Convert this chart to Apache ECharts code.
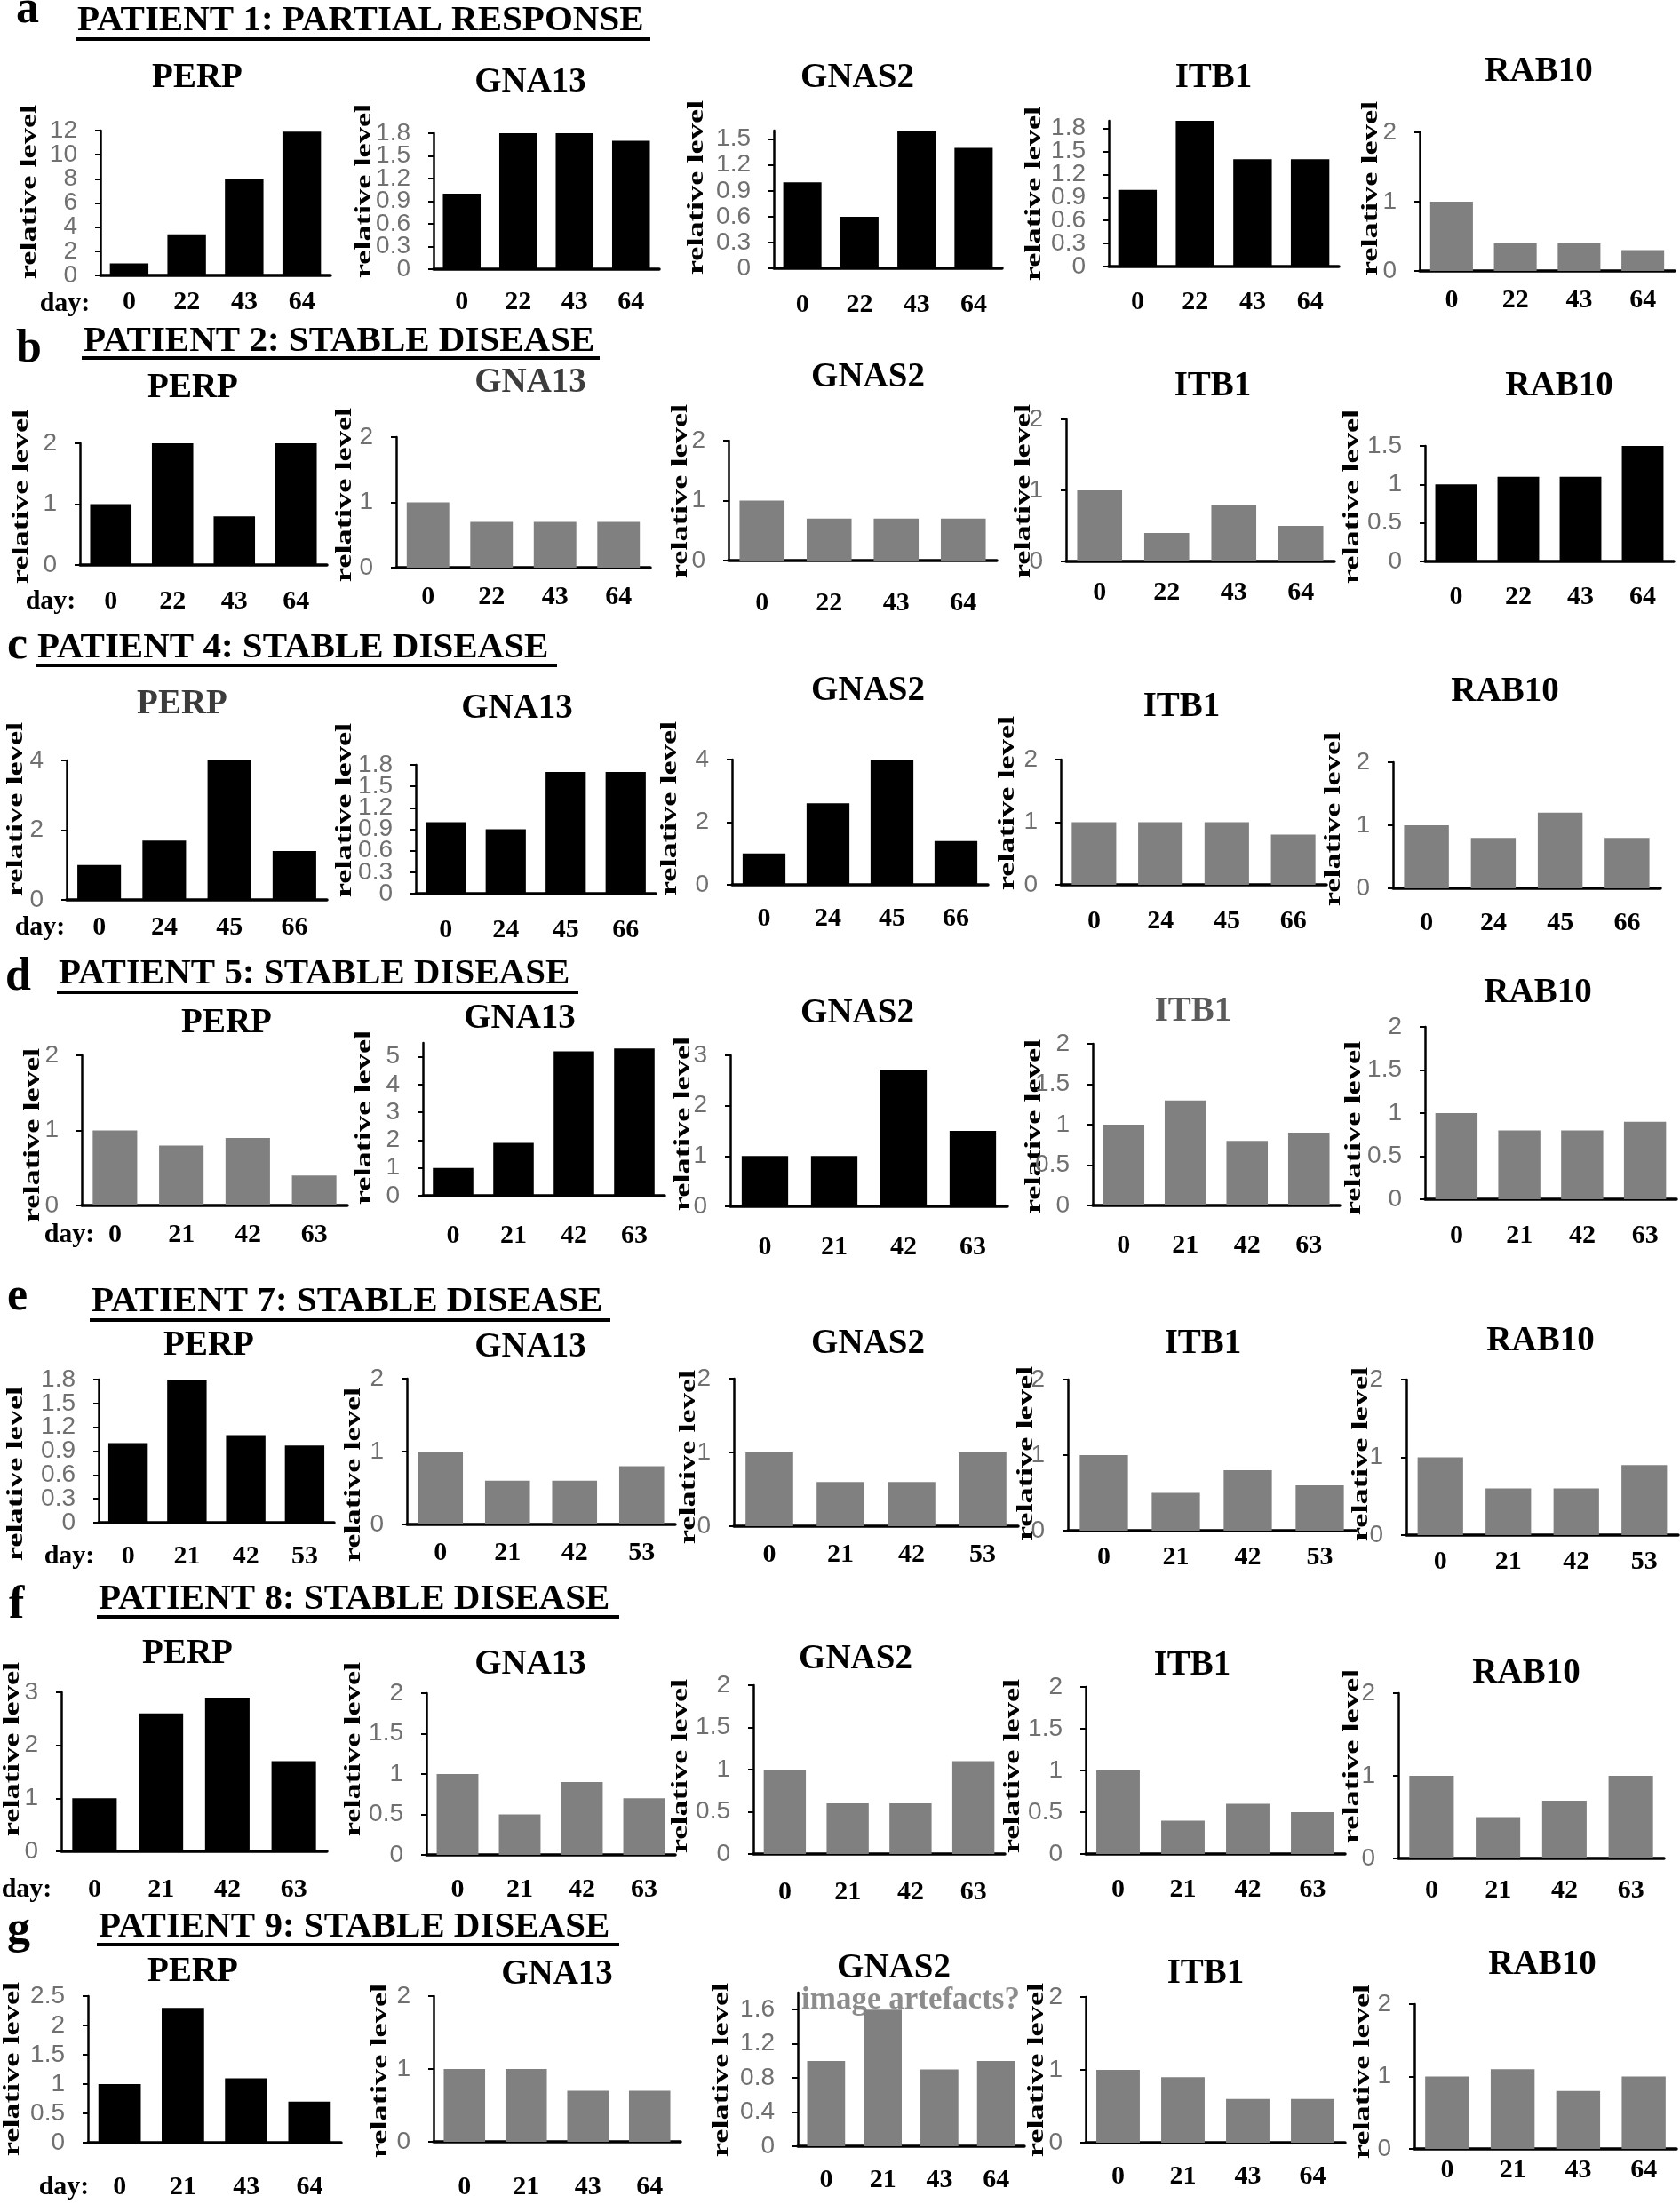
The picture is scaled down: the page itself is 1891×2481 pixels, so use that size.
<!DOCTYPE html>
<html><head><meta charset="utf-8">
<script src="https://cdn.jsdelivr.net/npm/echarts@6/dist/echarts.min.js"></script>
<style>html,body{margin:0;padding:0;background:#fff}#c{width:1891px;height:2481px}</style>
</head><body><div id="c"></div>
<script>
// ---------------- DATA ----------------
const genes = ['PERP', 'GNA13', 'GNAS2', 'ITB1', 'RAB10'];
const panelLetters = ['a', 'b', 'c', 'd', 'e', 'f', 'g'];
const patientTitles = [
  'PATIENT 1: PARTIAL RESPONSE', 'PATIENT 2: STABLE DISEASE', 'PATIENT 4: STABLE DISEASE',
  'PATIENT 5: STABLE DISEASE', 'PATIENT 7: STABLE DISEASE', 'PATIENT 8: STABLE DISEASE',
  'PATIENT 9: STABLE DISEASE'
];
const daysP1 = ['0', '22', '43', '64'];
const daysP2 = ['0', '22', '43', '64'];
const daysP4 = ['0', '24', '45', '66'];
const daysP5 = ['0', '21', '42', '63'];
const daysP7 = ['0', '21', '42', '53'];
const daysP8 = ['0', '21', '42', '63'];
const daysP9 = ['0', '21', '43', '64'];

// relative levels, one row per gene (PERP, GNA13, GNAS2, ITB1, RAB10)
const valuesP1 = [[1, 3.4, 8, 11.9], [1, 1.8, 1.8, 1.7], [1, 0.6, 1.6, 1.4], [1, 1.9, 1.4, 1.4], [1, 0.4, 0.4, 0.3]];
const valuesP2 = [[1, 2, 0.8, 2], [1, 0.7, 0.7, 0.7], [1, 0.7, 0.7, 0.7], [1, 0.4, 0.8, 0.5], [1, 1.1, 1.1, 1.5]];
const valuesP4 = [[1, 1.7, 4, 1.4], [1, 0.9, 1.7, 1.7], [1, 2.6, 4, 1.4], [1, 1, 1, 0.8], [1, 0.8, 1.2, 0.8]];
const valuesP5 = [[1, 0.8, 0.9, 0.4], [1, 1.9, 5.2, 5.3], [1, 1, 2.7, 1.5], [1, 1.3, 0.8, 0.9], [1, 0.8, 0.8, 0.9]];
const valuesP7 = [[1, 1.8, 1.1, 0.97], [1, 0.6, 0.6, 0.8], [1, 0.6, 0.6, 1], [1, 0.5, 0.8, 0.6], [1, 0.6, 0.6, 0.9]];
const valuesP8 = [[1, 2.6, 2.9, 1.7], [1, 0.5, 0.9, 0.7], [1, 0.6, 0.6, 1.1], [1, 0.4, 0.6, 0.5], [1, 0.5, 0.7, 1]];
const valuesP9 = [[1, 2.3, 1.1, 0.7], [1, 1, 0.7, 0.7], [1, 1.6, 0.9, 1], [1, 0.9, 0.6, 0.6], [1, 1.1, 0.8, 1]];

// increased genes (drawn black) vs not (drawn grey)
const increasedP1 = [1, 1, 1, 1, 0];
const increasedP2 = [1, 0, 0, 0, 1];
const increasedP4 = [1, 1, 1, 0, 0];
const increasedP5 = [0, 1, 1, 0, 0];
const increasedP7 = [1, 0, 0, 0, 0];
const increasedP8 = [1, 0, 0, 0, 0];
const increasedP9 = [1, 0, 0, 0, 0];

// y axis ranges / tick steps
const yMaxP1 = [12, 1.8, 1.6, 1.9, 2], yStepP1 = [2, 0.3, 0.3, 0.3, 1];
const yMaxP2 = [2, 2, 2, 2, 1.5], yStepP2 = [1, 1, 1, 1, 0.5];
const yMaxP4 = [4, 1.8, 4, 2, 2], yStepP4 = [2, 0.3, 2, 1, 1];
const yMaxP5 = [2, 5.5, 3, 2, 2], yStepP5 = [1, 1, 1, 0.5, 0.5];
const yMaxP7 = [1.8, 2, 2, 2, 2], yStepP7 = [0.3, 1, 1, 1, 1];
const yMaxP8 = [3, 2, 2, 2, 2], yStepP8 = [1, 0.5, 0.5, 0.5, 1];
const yMaxP9 = [2.5, 2, 1.8, 2, 2], yStepP9 = [0.5, 1, 0.4, 1, 1];

const annotationText = 'image artefacts?';

// ---------------- LAYOUT (pixels) ----------------
const days = [daysP1, daysP2, daysP4, daysP5, daysP7, daysP8, daysP9];
const values = [valuesP1, valuesP2, valuesP4, valuesP5, valuesP7, valuesP8, valuesP9];
const increased = [increasedP1, increasedP2, increasedP4, increasedP5, increasedP7, increasedP8, increasedP9];
const yMax = [yMaxP1, yMaxP2, yMaxP4, yMaxP5, yMaxP7, yMaxP8, yMaxP9];
const yStep = [yStepP1, yStepP2, yStepP4, yStepP5, yStepP7, yStepP8, yStepP9];

// [axisX, rightX, topY, baselineY]
const boxes = [
  [[113, 372, 147, 310], [488, 742, 150, 303], [871, 1128, 147, 302], [1248, 1507, 136, 300], [1598, 1885, 149, 305]],
  [[90, 368, 499, 636], [446, 732, 492, 639], [820, 1122, 496, 631], [1200, 1502, 472, 632], [1604, 1884, 502, 632]],
  [[75, 368, 856, 1013], [468, 738, 861, 1006], [824, 1112, 855, 996], [1194, 1493, 855, 996], [1568, 1869, 858, 1000]],
  [[92, 391, 1188, 1357], [476, 748, 1174, 1346], [822, 1134, 1188, 1358], [1230, 1508, 1175, 1357], [1604, 1887, 1156, 1350]],
  [[111, 376, 1553, 1714], [458, 760, 1552, 1716], [826, 1146, 1552, 1718], [1202, 1526, 1553, 1723], [1583, 1889, 1553, 1728]],
  [[69, 368, 1905, 2084], [480, 760, 1906, 2088], [848, 1131, 1897, 2087], [1222, 1514, 1899, 2087], [1574, 1873, 1906, 2092]],
  [[99, 384, 2247, 2412], [488, 766, 2247, 2411], [898, 1153, 2243, 2416], [1222, 1514, 2248, 2412], [1592, 1887, 2256, 2419]]
];
const titlePos = [
  [[222, 88], [597, 93], [965, 88], [1366, 88], [1732, 81]],
  [[217, 437], [597, 431], [977, 425], [1365, 435], [1755, 435]],
  [[205, 793], [582, 798], [977, 778], [1330, 796], [1694, 779]],
  [[255, 1152], [585, 1147], [965, 1141], [1343, 1139], [1731, 1118]],
  [[235, 1515], [597, 1517], [977, 1513], [1354, 1513], [1734, 1510]],
  [[211, 1862], [597, 1874], [963, 1868], [1342, 1875], [1718, 1884]],
  [[217, 2220], [627, 2223], [1006, 2216], [1357, 2222], [1736, 2212]]
];
const titleColor = [
  ['#000', '#000', '#000', '#000', '#000'],
  ['#000', '#3c3c3c', '#000', '#000', '#000'],
  ['#3c3c3c', '#000', '#000', '#000', '#000'],
  ['#000', '#000', '#000', '#5a5a5a', '#000'],
  ['#000', '#000', '#000', '#000', '#000'],
  ['#000', '#000', '#000', '#000', '#000'],
  ['#000', '#000', '#000', '#000', '#000']
];
const labelY = [
  [340, 340, 343, 340, 338], [677, 672, 679, 667, 672], [1044, 1047, 1034, 1037, 1039],
  [1390, 1391, 1404, 1402, 1391], [1752, 1748, 1750, 1753, 1758], [2127, 2127, 2130, 2127, 2128],
  [2462, 2462, 2454, 2450, 2443]
];
const relX = [
  [33, 410, 784, 1164, 1543], [24, 388, 766, 1152, 1522], [18, 388, 754, 1134, 1501],
  [37, 410, 769, 1164, 1524], [18, 398, 775, 1155, 1532], [14, 398, 766, 1140, 1522],
  [14, 428, 812, 1167, 1534]
];
const relY = [
  [216, 215, 211, 218, 212], [559, 557, 553, 553, 559], [911, 912, 910, 904, 922],
  [1278, 1258, 1265, 1268, 1270], [1659, 1660, 1640, 1636, 1637], [1969, 1969, 1988, 1988, 1977],
  [2329, 2331, 2330, 2330, 2332]
];
const dayLabelPos = [[73, 342], [57, 677], [45, 1044], [78, 1390], [78, 1752], [30, 2127], [72, 2462]];
// section header: [letterX, letterMidY, titleX, titleMidY, underlineY, underlineX0, underlineX1]
const headers = [
  [18, 12, 87, 23, 42, 85, 732],
  [18, 394, 94, 384, 401, 92, 675],
  [8, 728, 42, 729, 747, 40, 627],
  [6, 1101, 66, 1096, 1115, 64, 651],
  [8, 1461, 103, 1465, 1484, 101, 687],
  [10, 1808, 111, 1800, 1818, 109, 697],
  [8, 2174, 111, 2169, 2187, 109, 697]
];

const SERIF = '"Liberation Serif", "Times New Roman", serif';
const SANS = '"Liberation Sans", Arial, sans-serif';

const grids = [], xAxes = [], yAxes = [], series = [], graphics = [];

function fmt(v) { return String(parseFloat(v.toFixed(4))); }

days.forEach((dayCats, r) => {
  genes.forEach((gene, k) => {
    const i = r * 5 + k;
    const b = boxes[r][k];
    const step = yStep[r][k];
    const maxV = yMax[r][k];
    // labelled tick values split in two alternating sets so labels never collide
    const nT = Math.floor(maxV / step + 1e-6);
    const evenT = [], oddT = [];
    for (let t = 0; t <= nT; t++) (t % 2 === 0 ? evenT : oddT).push(parseFloat((t * step).toFixed(4)));

    grids.push({
      left: b[0], top: b[2], width: b[1] - b[0], height: b[3] - b[2],
      containLabel: false, outerBoundsMode: 'none', show: false
    });
    xAxes.push({
      type: 'category', gridIndex: i, data: dayCats,
      axisLine: { show: true, onZero: false, lineStyle: { color: '#000', width: 3.5 } },
      axisTick: { show: false },
      splitLine: { show: false },
      axisLabel: {
        margin: labelY[r][k] - b[3] - 15, interval: 0, hideOverlap: false,
        fontFamily: SERIF, fontWeight: 'bold', fontSize: 30, color: '#000'
      }
    });
    const labelStyle = {
      margin: 26, fontFamily: SANS, fontSize: 28, color: '#707070',
      showMinLabel: true, showMaxLabel: true, hideOverlap: false, formatter: fmt
    };
    // main y axis: line, ticks, even labels
    yAxes.push({
      type: 'value', gridIndex: i, position: 'left', offset: 0,
      min: 0, max: maxV, interval: step,
      splitLine: { show: false },
      axisLine: { show: true, lineStyle: { color: '#000', width: 2.5 } },
      axisTick: { show: true, length: 6, inside: false, lineStyle: { color: '#000', width: 2 },
                  customValues: evenT.concat(oddT) },
      axisLabel: Object.assign({ customValues: evenT }, labelStyle)
    });
    // twin y axis: odd labels only
    yAxes.push({
      type: 'value', gridIndex: i, position: 'left', offset: 0,
      min: 0, max: maxV, interval: step,
      splitLine: { show: false },
      axisLine: { show: false },
      axisTick: { show: false },
      axisLabel: Object.assign({ customValues: oddT }, labelStyle)
    });
    series.push({
      type: 'bar', xAxisIndex: i, yAxisIndex: 2 * i, data: values[r][k],
      barCategoryGap: '33%', clip: false,
      itemStyle: { color: increased[r][k] ? '#000000' : '#808080' },
      emphasis: { disabled: true }
    });
    // gene title
    graphics.push({
      type: 'text', x: titlePos[r][k][0], y: titlePos[r][k][1], silent: true,
      style: {
        text: gene, font: 'bold 39px ' + SERIF, fill: titleColor[r][k],
        textAlign: 'center', textVerticalAlign: 'middle', align: 'center', verticalAlign: 'middle'
      }
    });
    // y axis name
    graphics.push({
      type: 'text', x: relX[r][k], y: relY[r][k], rotation: Math.PI / 2, scaleX: 1.4, silent: true,
      style: {
        text: 'relative level', font: 'bold 26px ' + SERIF, fill: '#000',
        textAlign: 'center', textVerticalAlign: 'middle', align: 'center', verticalAlign: 'middle'
      }
    });
  });
  // "day:" label
  graphics.push({
    type: 'text', x: dayLabelPos[r][0], y: dayLabelPos[r][1], silent: true,
    style: {
      text: 'day:', font: 'bold 30px ' + SERIF, fill: '#000',
      textAlign: 'center', textVerticalAlign: 'middle', align: 'center', verticalAlign: 'middle'
    }
  });
  // section header
  const h = headers[r];
  graphics.push({
    type: 'text', x: h[0], y: h[1], silent: true,
    style: {
      text: panelLetters[r], font: 'bold 52px ' + SERIF, fill: '#000',
      textAlign: 'left', textVerticalAlign: 'middle', align: 'left', verticalAlign: 'middle'
    }
  });
  graphics.push({
    type: 'text', x: h[2], y: h[3], silent: true,
    style: {
      text: patientTitles[r], font: 'bold 41px ' + SERIF, fill: '#000',
      textAlign: 'left', textVerticalAlign: 'middle', align: 'left', verticalAlign: 'middle'
    }
  });
  graphics.push({
    type: 'rect', silent: true,
    shape: { x: h[5], y: h[4], width: h[6] - h[5], height: 4 },
    style: { fill: '#000' }
  });
});

// annotation in patient 9 GNAS2 panel
graphics.push({
  type: 'text', x: 1025, y: 2252, silent: true,
  style: {
    text: annotationText, font: 'bold 35px ' + SERIF, fill: '#8c8c8c',
    textAlign: 'center', textVerticalAlign: 'middle', align: 'center', verticalAlign: 'middle'
  }
});

const chart = echarts.init(document.getElementById('c'), null, { renderer: 'canvas', width: 1891, height: 2481 });
chart.setOption({
  animation: false,
  backgroundColor: '#ffffff',
  grid: grids,
  xAxis: xAxes,
  yAxis: yAxes,
  series: series,
  graphic: { elements: graphics }
});
</script>
</body></html>
